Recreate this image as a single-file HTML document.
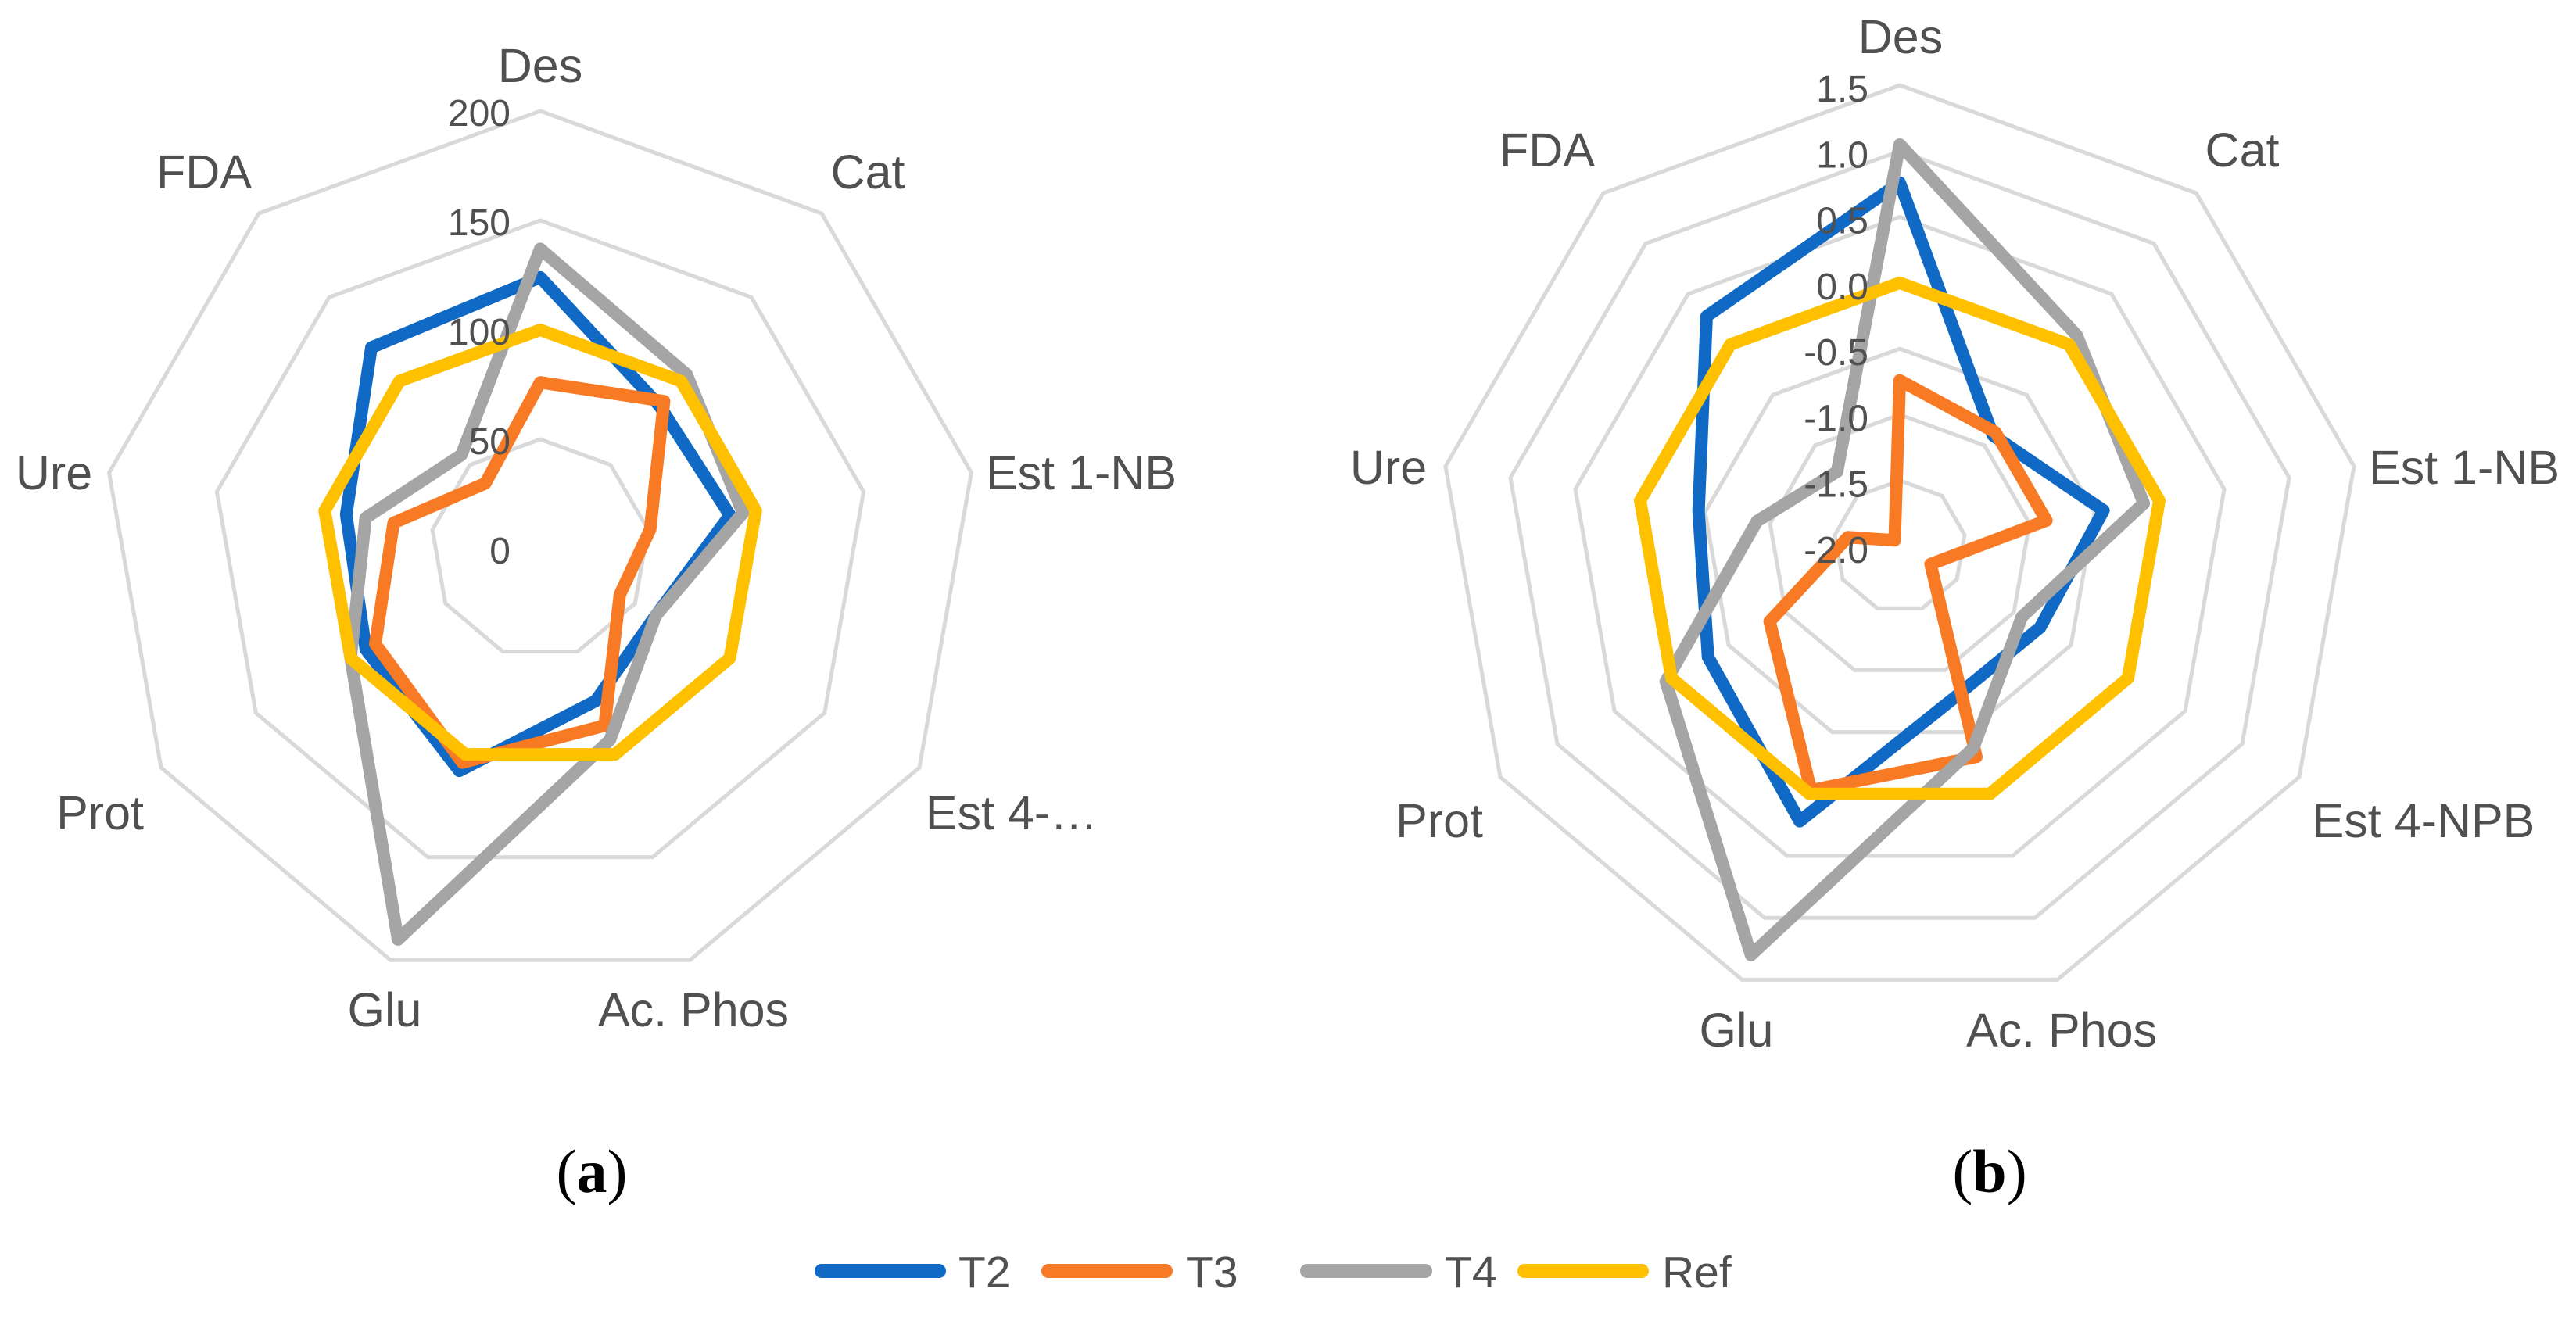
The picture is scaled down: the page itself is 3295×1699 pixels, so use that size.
<!DOCTYPE html>
<html lang="en">
<head>
<meta charset="utf-8">
<title>Radar charts of enzyme activities</title>
<style>
html,body{margin:0;padding:0;background:#fff;}
svg{display:block;}
text{font-family:"Liberation Sans",sans-serif;fill:#505050;}
.cat{font-size:61px;text-anchor:middle;}
.tick{font-size:48px;text-anchor:end;}
.cap{font-family:"Liberation Serif",serif;font-size:78px;fill:#000;text-anchor:middle;}
.leg{font-size:57px;}
</style>
</head>
<body>
<svg id="figure" xmlns="http://www.w3.org/2000/svg" width="3295" height="1699" viewBox="0 0 3295 1699">
  <rect width="3295" height="1699" fill="#ffffff"/>
  <g id="chart-a"></g>
  <g id="chart-b"></g>
  <text class="cap" x="757" y="1525">(<tspan font-weight="bold" style="fill:#000">a</tspan>)</text>
  <text class="cap" x="2545" y="1525">(<tspan font-weight="bold" style="fill:#000">b</tspan>)</text>
  <g>
    <line x1="1051" y1="1626" x2="1201" y2="1626" stroke="#1069C4" stroke-width="18" stroke-linecap="round"/>
    <text class="leg" x="1226" y="1647">T2</text>
    <line x1="1341" y1="1626" x2="1491" y2="1626" stroke="#F97A24" stroke-width="18" stroke-linecap="round"/>
    <text class="leg" x="1517" y="1647">T3</text>
    <line x1="1672" y1="1626" x2="1823" y2="1626" stroke="#A5A5A5" stroke-width="18" stroke-linecap="round"/>
    <text class="leg" x="1848" y="1647">T4</text>
    <line x1="1950" y1="1626" x2="2100" y2="1626" stroke="#FFC000" stroke-width="18" stroke-linecap="round"/>
    <text class="leg" x="2126" y="1647">Ref</text>
  </g>
</svg>
<script>
// Panel (a) data
const categoriesA = ["Des", "Cat", "Est 1-NB", "Est 4-…", "Ac. Phos", "Glu", "Prot", "Ure", "FDA"];
const ticksA = [0, 50, 100, 150, 200];
const tickLabelsA = ["0", "50", "100", "150", "200"];
const t2A = [124, 85, 88, 61, 74, 108, 92, 90, 120];
const t3A = [76, 88, 51, 42, 86, 104, 87, 68, 39];
const t4A = [137, 104, 94, 61, 93, 190, 100, 81, 56];
const refA = [100, 100, 100, 100, 100, 100, 100, 100, 100];

// Panel (b) data
const categoriesB = ["Des", "Cat", "Est 1-NB", "Est 4-NPB", "Ac. Phos", "Glu", "Prot", "Ure", "FDA"];
const ticksB = [-2, -1.5, -1, -0.5, 0, 0.5, 1, 1.5];
const tickLabelsB = ["-2.0", "-1.5", "-1.0", "-0.5", "0.0", "0.5", "1.0", "1.5"];
const t2B = [0.76, -0.9, -0.43, -0.77, -0.78, 0.22, -0.32, -0.45, 0.28];
const t3B = [-0.74, -0.87, -0.87, -1.73, -0.3, -0.03, -0.86, -1.6, -1.94];
const t4B = [1.05, 0.09, -0.12, -0.93, -0.37, 1.3, 0.05, -0.9, -1.26];
const refB = [0, 0, 0, 0, 0, 0, 0, 0, 0];

const seriesColors = { t2: "#1069C4", t3: "#F97A24", t4: "#A5A5A5", ref: "#FFC000" };
const NS = "http://www.w3.org/2000/svg";

function drawRadar(group, panel, cfg, categories, ticks, tickLabels, seriesList) {
  const n = categories.length;
  const min = ticks[0];
  const max = ticks[ticks.length - 1];
  function radius(v) { return (v - min) / (max - min) * cfg.r; }
  function point(i, v) {
    const a = i * 2 * Math.PI / n;
    const rr = radius(v);
    return [cfg.cx + rr * Math.sin(a), cfg.cy - rr * Math.cos(a)];
  }
  ticks.forEach(function (t, k) {
    if (t === min) return;
    const ring = document.createElementNS(NS, "polygon");
    
    
    ring.setAttribute("points", categories.map(function (_, i) { return point(i, t).join(","); }).join(" "));
    ring.setAttribute("fill", "none");
    ring.setAttribute("stroke", "#D9D9D9");
    ring.setAttribute("stroke-width", "5");
    group.appendChild(ring);
  });
  seriesList.forEach(function (s) {
    const line = document.createElementNS(NS, "polygon");
    
    
    line.setAttribute("points", s.values.map(function (v, i) { return point(i, v).join(","); }).join(" "));
    line.setAttribute("fill", "none");
    line.setAttribute("stroke", s.color);
    line.setAttribute("stroke-width", "16");
    line.setAttribute("stroke-linejoin", "round");
    group.appendChild(line);
  });
  ticks.forEach(function (t, k) {
    const label = document.createElementNS(NS, "text");
    
    
    label.setAttribute("class", "tick");
    label.setAttribute("x", cfg.tickX);
    label.setAttribute("y", cfg.cy - radius(t) + cfg.tickDy);
    label.textContent = tickLabels[k];
    group.appendChild(label);
  });
  categories.forEach(function (c, i) {
    const label = document.createElementNS(NS, "text");
    
    
    label.setAttribute("class", "cat");
    label.setAttribute("x", cfg.labels[i][0]);
    label.setAttribute("y", cfg.labels[i][1] + 21);
    label.textContent = c;
    group.appendChild(label);
  });
}

drawRadar(document.getElementById("chart-a"), "a",
  { cx: 691, cy: 702, r: 560, tickX: 653, tickDy: 19,
    labels: [[691, 84], [1110, 220], [1383, 605], [1294, 1040], [887, 1292], [492, 1292], [128, 1040], [69, 605], [261, 220]] },
  categoriesA, ticksA, tickLabelsA,
  [{ values: t2A, color: seriesColors.t2 }, { values: t3A, color: seriesColors.t3 },
   { values: t4A, color: seriesColors.t4 }, { values: refA, color: seriesColors.ref }]);

drawRadar(document.getElementById("chart-b"), "b",
  { cx: 2430, cy: 699, r: 590, tickX: 2390, tickDy: 21,
    labels: [[2431, 47], [2868, 192], [3152, 598], [3100, 1050], [2637, 1318], [2221, 1318], [1841, 1050], [1776, 598], [1979, 192]] },
  categoriesB, ticksB, tickLabelsB,
  [{ values: t2B, color: seriesColors.t2 }, { values: t3B, color: seriesColors.t3 },
   { values: t4B, color: seriesColors.t4 }, { values: refB, color: seriesColors.ref }]);
</script>
</body>
</html>
